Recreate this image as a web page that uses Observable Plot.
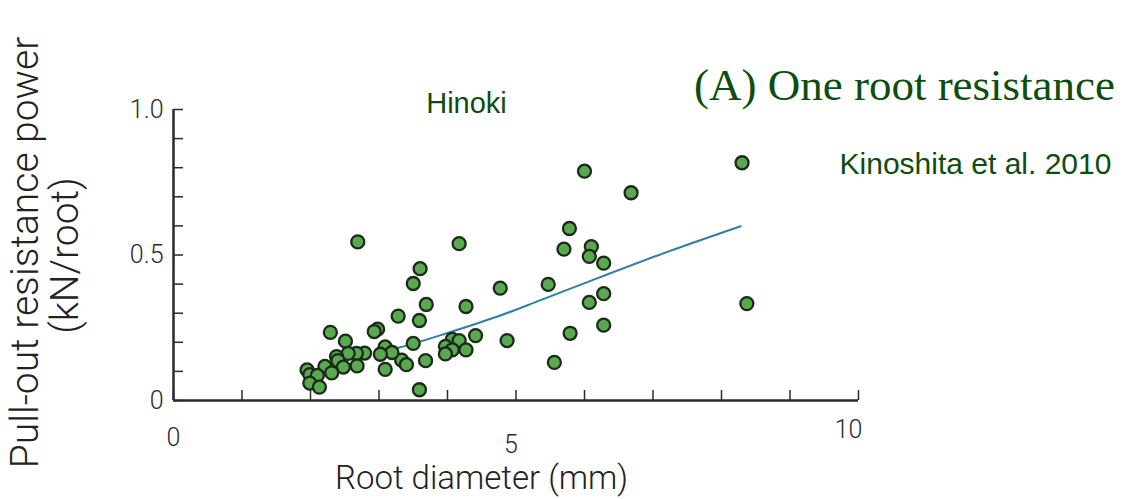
<!DOCTYPE html>
<html><head><meta charset="utf-8">
<script src="https://cdn.jsdelivr.net/npm/d3@7"></script>
<script src="https://cdn.jsdelivr.net/npm/@observablehq/plot@0.6"></script>
<style>body{margin:0;background:#fff;} #chart{width:1143px;height:499px;}</style>
</head><body><div id="chart"></div><script>
// Root diameter (mm) and pull-out resistance (kN/root), Hinoki
const diameter = [2.69,4.17,6.00,6.68,8.30,5.78,5.70,6.10,6.07,6.28,5.47,6.28,6.07,8.37,6.28,5.79,5.56,
  3.60,3.50,4.77,3.69,4.27,3.28,3.59,4.41,3.50,4.87,4.07,4.17,3.97,4.07,4.27,3.97,3.33,3.40,3.68,3.59,
  2.98,2.93,2.29,2.51,3.09,2.79,2.67,2.55,2.38,3.19,3.02,2.40,2.21,2.48,2.68,3.09,2.31,1.95,1.99,2.10,1.99,2.13];
const resistance = [0.545,0.539,0.788,0.714,0.817,0.591,0.520,0.529,0.495,0.472,0.399,0.367,0.337,0.333,0.259,0.231,0.131,
  0.453,0.402,0.386,0.330,0.323,0.290,0.275,0.223,0.196,0.206,0.210,0.206,0.186,0.174,0.174,0.160,0.139,0.123,0.137,0.037,
  0.245,0.237,0.234,0.204,0.184,0.163,0.162,0.162,0.151,0.165,0.159,0.137,0.117,0.115,0.119,0.107,0.095,0.105,0.089,0.086,0.060,0.046];
// fitted curve
const fitDiameter = [3.0,3.31,4.0,4.77,5.35,6.23,7.20,8.28];
const fitResistance = [0.165,0.183,0.232,0.292,0.344,0.424,0.510,0.599];
// ticks
const xTicks = [0,1,2,3,4,5,6,7,8,9,10];
const yTicks = [0,0.1,0.2,0.3,0.4,0.5,0.6,0.7,0.8,0.9,1.0];
const xTickLabels = [0,5,10];
const yTickLabels = [0,0.5,1.0];
const yTickText = ["0","0.5","1.0"];

const points = diameter.map((d,i)=>({d, r: resistance[i]}));
const fit = fitDiameter.map((d,i)=>({d, r: fitResistance[i]}));

const axisColor = "#2b2b2b";
const labelFont = "Roboto";
const xPads = [28, 35, 20];
const xShift = [0, -5, -10];
const green = "#0d4d0d";

const plot = Plot.plot({
  width: 1143, height: 499,
  marginLeft: 173, marginRight: 285, marginTop: 109, marginBottom: 99,
  x: {domain: [0,10]},
  y: {domain: [0,1]},
  style: {background: "white", fontFamily: labelFont, color: axisColor},
  marks: [
    Plot.axisX(xTicks, {tickSize: -10, tickFormat: () => "", strokeWidth: 1.5, stroke: axisColor, label: null}),
    Plot.axisY(yTicks, {tickSize: -10, tickFormat: () => "", strokeWidth: 1.5, stroke: axisColor, label: null}),
    ...xTickLabels.map((t,i) => Plot.axisX([t], {tickSize: 0, tickPadding: xPads[i], dx: xShift[i], fontSize: 25, fontWeight: 300, fill: axisColor, label: null})),
    Plot.axisY(yTickLabels, {tickSize: 0, tickPadding: 10, fontSize: 25, fontWeight: 300, fill: axisColor, label: null, tickFormat: d => yTickText[yTickLabels.indexOf(d)]}),
    Plot.ruleX([0], {y1: 0, y2: 1, stroke: axisColor, strokeWidth: 2.5}),
    Plot.ruleY([0], {x1: 0, x2: 10, stroke: axisColor, strokeWidth: 2.5}),
    Plot.line(fit, {x: "d", y: "r", stroke: "#2e7ea6", strokeWidth: 2, curve: "monotone-x"}),
    Plot.dot(points, {x: "d", y: "r", r: 6.5, fill: "#5aa84f", stroke: "#1b2a19", strokeWidth: 2.3}),
    Plot.text(["Root diameter (mm)"], {frameAnchor: "top-left", dx: 481-173, dy: 478-109, fontSize: 33, fontWeight: 300, fill: "#222", textAnchor: "middle", lineAnchor: "middle"}),
    Plot.text(["Pull-out resistance power"], {frameAnchor: "top-left", dx: 25-173, dy: 252-109, rotate: -90, fontSize: 39, fontWeight: 300, fill: "#222", textAnchor: "middle", lineAnchor: "middle"}),
    Plot.text(["(kN/root)"], {frameAnchor: "top-left", dx: 65-173, dy: 255-109, rotate: -90, fontSize: 39, fontWeight: 300, fill: "#222", textAnchor: "middle", lineAnchor: "middle"}),
    Plot.text(["Hinoki"], {frameAnchor: "top-left", dx: 466-173, dy: 103-109, fontSize: 29, fontFamily: "Liberation Sans", fill: green, textAnchor: "middle", lineAnchor: "middle"}),
    Plot.text(["(A) One root resistance"], {frameAnchor: "top-left", dx: 904-173, dy: 85-109, fontSize: 45, fontFamily: "Liberation Serif", fill: green, textAnchor: "middle", lineAnchor: "middle"}),
    Plot.text(["Kinoshita et al. 2010"], {frameAnchor: "top-left", dx: 975-173, dy: 164-109, fontSize: 30, fontFamily: "Liberation Sans", fill: green, textAnchor: "middle", lineAnchor: "middle"})
  ]
});
document.getElementById("chart").appendChild(plot);
</script></body></html>
